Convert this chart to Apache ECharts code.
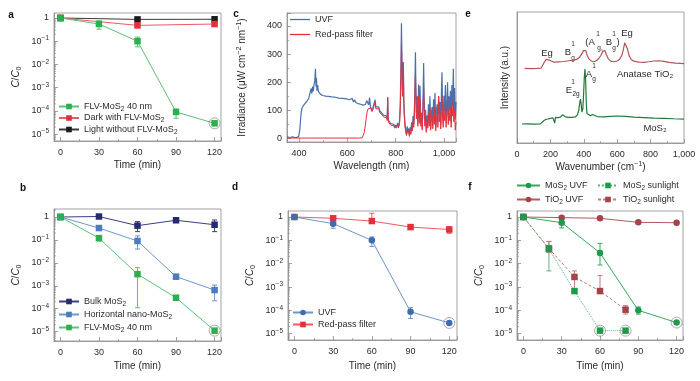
<!DOCTYPE html>
<html><head><meta charset="utf-8">
<script src="https://cdn.jsdelivr.net/npm/echarts@6/dist/echarts.min.js"></script>
<style>html,body{margin:0;padding:0;background:#fff}#c{width:700px;height:381px}</style>
</head><body><div id="c"></div>
<script>
// ================= DATA =================
// panel a
const timeA = [0, 30, 60, 90, 120];
const timeA3 = [0, 60, 120];
const aFlv   = [1, 0.55, 0.1, 8.9e-5, 2.9e-5];
const aFlvLo = [null, 0.33, 0.057, 4.8e-5, null];
const aFlvHi = [null, 0.76, 0.15, 1.2e-4, null];
const aDark   = [1, 0.48, 0.55];
const aDarkLo = [null, null, 0.47];
const aDarkHi = [null, null, 0.66];
const aLight  = [1, 0.87, 0.88];
// panel b
const timeB = [0, 30, 60, 90, 120];
const bBulk   = [1, 1.05, 0.42, 0.72, 0.46];
const bBulkLo = [null, null, 0.23, 0.6, 0.23];
const bBulkHi = [null, null, 0.63, 0.85, 0.74];
const bHor    = [1, 0.33, 0.09, 0.0025, 6.5e-4];
const bHorLo  = [null, 0.26, 0.04, 0.0019, 2.2e-4];
const bHorHi  = [null, 0.42, 0.15, 0.003, 1.07e-3];
const bFlv    = [1, 0.12, 3.2e-3, 3.0e-4, 1.1e-5];
const bFlvLo  = [null, 0.09, 1.1e-4, 2.4e-4, null];
const bFlvHi  = [null, 0.15, 6.2e-3, 3.8e-4, null];
// panel d
const timeD = [0, 30, 60, 90, 120];
const dUvf   = [1, 0.52, 0.1, 8.7e-5, 2.9e-5];
const dUvfLo = [null, 0.33, 0.055, 4.5e-5, null];
const dUvfHi = [null, 0.75, 0.14, 1.3e-4, null];
const dRed   = [1, 0.88, 0.67, 0.37, 0.29];
const dRedLo = [null, null, 0.6, 0.3, 0.2];
const dRedHi = [null, null, 1.45, 0.45, 0.38];
// panel f
const timeF = [0, 30, 60, 90, 120];
const timeFSun = [0, 20, 40, 60, 80];
const fMoUvf   = [1, 0.57, 0.029, 1.0e-4, 3.0e-5];
const fMoUvfLo = [null, 0.34, 0.0088, 6.9e-5, null];
const fMoUvfHi = [null, 0.8, 0.074, 1.4e-4, null];
const fTiUvf   = [1, 0.94, 0.88, 0.59, 0.57];
const fMoSun   = [1, 0.043, 6.7e-4, 1.35e-5, 1.35e-5];
const fMoSunLo = [null, 0.0049, null, null, null];
const fMoSunHi = [null, 0.09, null, null, null];
const fTiSun   = [1, 0.045, 0.0027, 6.7e-4, 1.07e-4];
const fTiSunLo = [null, 0.03, 6.7e-4, 6.7e-4, 7e-5];
const fTiSunHi = [null, 0.09, 0.0049, 3.1e-3, 1.6e-4];
// panel c: irradiance spectra [wavelength nm, µW cm-2 nm-1]
const cUvf = [[350,6],[354,3],[358,7],[362,4],[366,8],[370,3],[374,6],[378,4],[382,7],[386,3],[390,6],[394,4],[398,7],[400,9],[403,30],[406,65],[409,95],[412,108],[416,115],[420,120],[425,126],[430,130],[435,136],[440,143],[444,150],[447,168],[450,178],[453,160],[456,185],[459,168],[462,192],[465,205],[468,248],[470,185],[472,215],[474,170],[477,190],[480,168],[484,172],[488,158],[493,162],[498,153],[504,157],[510,151],[516,154],[522,150],[528,153],[535,148],[542,151],[550,147],[558,149],[565,144],[572,147],[580,143],[588,146],[595,141],[602,144],[610,138],[615,135],[620,143],[625,130],[630,138],[635,128],[640,133],[645,124],[650,130],[655,122],[660,128],[665,119],[670,126],[675,121],[680,135],[684,142],[688,120],[692,146],[696,110],[700,114],[704,102],[708,116],[712,122],[715,138],[718,113],[722,119],[726,106],[730,113],[734,99],[738,104],[742,91],[746,96],[750,83],[754,89],[758,76],[762,81],[765,70],[767,148],[769,73],[772,62],[776,66],[780,53],[784,59],[788,46],[792,51],[796,41],[800,49],[804,37],[808,56],[812,43],[816,61],[819,120],[822,260],[824,410],[826,300],[828,175],[830,240],[832,272],[834,140],[836,90],[839,50],[842,30],[845,14],[848,44],[851,24],[854,36],[857,10],[860,40],[863,20],[866,58],[869,34],[872,80],[875,50],[878,118],[880,200],[882,307],[884,180],[886,92],[889,150],[892,60],[895,192],[898,72],[901,188],[904,58],[907,92],[910,40],[913,122],[916,268],[918,150],[921,60],[924,102],[927,30],[930,82],[933,48],[936,122],[939,58],[942,150],[945,38],[948,92],[951,112],[954,48],[957,140],[960,70],[963,162],[966,40],[969,100],[972,122],[975,58],[978,150],[981,88],[984,130],[987,48],[990,180],[992,236],[994,120],[997,58],[1000,152],[1003,98],[1006,190],[1009,58],[1012,120],[1015,200],[1018,78],[1021,150],[1024,100],[1027,170],[1030,58],[1033,190],[1036,118],[1039,248],[1041,98],[1044,180],[1047,68],[1050,130]];
const cRed = [[350,2],[450,2],[550,2],[650,2],[662,3],[666,8],[670,22],[674,45],[678,72],[682,95],[686,106],[690,112],[694,104],[698,108],[702,96],[706,104],[710,114],[714,130],[718,106],[722,112],[726,99],[730,106],[734,93],[738,97],[742,85],[746,90],[750,77],[754,82],[758,70],[762,74],[765,64],[767,145],[769,66],[772,56],[776,60],[780,48],[784,53],[788,41],[792,46],[796,37],[800,43],[804,33],[808,49],[812,38],[816,53],[819,100],[822,220],[824,337],[826,250],[828,150],[830,200],[832,250],[834,118],[836,74],[839,40],[842,24],[845,11],[848,34],[851,19],[854,28],[857,8],[860,30],[863,15],[866,44],[869,27],[872,60],[875,40],[878,90],[880,160],[882,232],[884,140],[886,70],[889,110],[892,44],[895,150],[898,54],[901,140],[904,44],[907,70],[910,30],[913,90],[916,178],[918,110],[921,44],[924,75],[927,22],[930,60],[933,37],[936,90],[939,44],[942,110],[945,30],[948,66],[951,80],[954,35],[957,100],[960,50],[963,112],[966,28],[969,70],[972,86],[975,40],[978,150],[981,60],[984,90],[987,34],[990,120],[992,150],[994,80],[997,40],[1000,100],[1003,64],[1006,120],[1009,40],[1012,80],[1015,130],[1018,50],[1021,100],[1024,64],[1027,110],[1030,40],[1033,120],[1036,80],[1039,140],[1041,60],[1044,100],[1047,30],[1050,60]];
// panel e: Raman spectra [wavenumber cm-1, intensity a.u.]
const eTiO2 = [[45,57],[80,56.8],[120,57],[145,57.2],[155,58.5],[165,62],[175,63.8],[185,62.5],[195,63.2],[205,62.2],[220,61.8],[250,62],[280,62.2],[310,62.8],[340,63.3],[360,64],[375,65.5],[388,68],[398,70.5],[405,71.8],[412,70.5],[420,67],[432,64],[445,62.6],[460,62],[475,62.8],[490,64.5],[503,67],[513,70],[520,71.2],[527,70.5],[535,67.5],[548,64],[562,62.5],[580,62],[600,62.6],[615,64],[628,67],[638,72],[645,76.5],[650,78],[655,76.5],[662,71.5],[672,66.5],[685,63.5],[700,62.5],[730,61.8],[760,61.5],[790,62],[820,62.6],[850,62.8],[880,62.3],[910,61.5],[950,61],[1000,60.6]];
const eMoS2 = [[30,14.5],[60,14.6],[100,14.4],[140,14.6],[150,15.5],[160,17],[172,18],[185,18.3],[200,18.8],[215,19.3],[222,19.8],[226,15.2],[230,19.5],[245,19.4],[260,19.8],[272,21.5],[280,21.8],[290,20],[310,19.5],[330,19.6],[350,20],[362,21.5],[370,25],[376,31],[380,33.5],[384,30],[389,23.5],[394,26],[398,35],[403,50],[407,56.4],[411,48],[415,30],[419,22.5],[428,21],[440,20.8],[452,21.8],[462,21],[480,20.2],[520,20],[560,20.3],[600,20.6],[650,20.3],[700,19.8],[760,19.4],[820,19],[880,18.8],[940,18.5],[1000,18.3]];

// ================= STYLE HELPERS =================
const FONT = '"Liberation Sans", Arial, sans-serif';
const TXT = '#2b2b2b';
const AX = '#8c8c8c';
function RICH(fs){
  const s = Math.round(fs*0.72*10)/10;
  return {
    n:{fontSize:fs, fontFamily:FONT, color:TXT, lineHeight:fs+3},
    i:{fontSize:fs, fontFamily:FONT, color:TXT, fontStyle:'italic', lineHeight:fs+3},
    b:{fontSize:s, fontFamily:FONT, color:TXT, verticalAlign:'bottom', lineHeight:s},
    p:{fontSize:s, fontFamily:FONT, color:TXT, verticalAlign:'top', lineHeight:s}
  };
}
function rt(str){
  let out='', buf='';
  const flush=()=>{ if(buf){ out+='{n|'+buf+'}'; buf=''; } };
  for(let i=0;i<str.length;i++){
    const c=str[i];
    if(c==='_'||c==='^'){
      flush(); let t;
      if(str[i+1]==='{'){ const j=str.indexOf('}',i+2); t=str.slice(i+2,j); i=j; } else { t=str[i+1]; i++; }
      out+='{'+(c==='_'?'b':'p')+'|'+t+'}';
    } else if(c==='~'){ flush(); out+='{i|'+str[i+1]+'}'; i++; }
    else buf+=c;
  }
  flush(); return out;
}
function logLabel(v){
  const e=Math.log10(v), r=Math.round(e);
  if(Math.abs(e-r)>1e-6) return '';
  if(r===0) return '{n|1}';
  return '{n|10}{p|−'+Math.abs(r)+'}';
}
const DISP = {
  a1:'FLV-MoS_2 40 nm', a2:'Dark with FLV-MoS_2', a3:'Light without FLV-MoS_2',
  b1:'Bulk MoS_2', b2:'Horizontal nano-MoS_2', b3:'FLV-MoS_2 40 nm ',
  c1:'UVF', c2:'Red-pass filter',
  d1:'UVF ', d2:'Red-pass filter ',
  f1:'MoS_2 UVF', f2:'TiO_2 UVF', f3:'MoS_2 sunlight', f4:'TiO_2 sunlight'
};

const gridsPx = [
  {left:54, top:13, width:167, height:128},   // a
  {left:54, top:209, width:167, height:132},  // b
  {left:287, top:13, width:169, height:129},  // c
  {left:288, top:211, width:169, height:129}, // d
  {left:517, top:12, width:167, height:131},  // e
  {left:517, top:211, width:166, height:129}  // f
];
const grids = gridsPx.map(g=>Object.assign({show:true, borderColor:AX, borderWidth:0.8, backgroundColor:'transparent', containLabel:false, outerBoundsMode:'none'}, g));

const tickStyle = {inside:true, length:4, lineStyle:{color:AX, width:0.8}};
const minorStyle = (n)=>({show:true, splitNumber:n, length:2, lineStyle:{color:AX, width:0.7}});

function timeAxis(gi, nameGap){
  return {type:'value', gridIndex:gi, min:-5, max:125, splitNumber:5,
    axisLine:{onZero:false, lineStyle:{color:AX, width:0.8}}, axisTick:tickStyle, minorTick:minorStyle(2),
    splitLine:{show:false}, minorSplitLine:{show:false},
    axisLabel:{margin:7, color:TXT, fontSize:9, fontFamily:FONT, showMinLabel:false, showMaxLabel:false,
      formatter:v=>(v>=0 && v<=120 && v%30===0)?String(v):''},
    name:'Time (min)', nameLocation:'middle', nameGap:nameGap,
    nameTextStyle:{fontSize:10, fontFamily:FONT, color:TXT}};
}
function logAxis(gi, lo, hi){
  return {type:'log', logBase:10, gridIndex:gi, min:Math.pow(10,lo), max:Math.pow(10,hi),
    axisLine:{onZero:false, lineStyle:{color:AX, width:0.8}}, axisTick:tickStyle, minorTick:{show:false},
    splitLine:{show:false}, minorSplitLine:{show:false},
    axisLabel:{margin:5, formatter:logLabel, rich:RICH(9), showMinLabel:false, showMaxLabel:false},
    name:rt('~C/~C_0'), nameLocation:'middle', nameGap:31, nameRotate:90,
    nameTextStyle:{rich:RICH(10)}};
}

const xAxes = [
  timeAxis(0, 19),
  timeAxis(1, 20),
  {type:'value', gridIndex:2, min:350, max:1050, splitNumber:3,
    axisLine:{onZero:false, lineStyle:{color:AX, width:0.8}}, axisTick:tickStyle, minorTick:minorStyle(2),
    splitLine:{show:false},
    axisLabel:{margin:7, color:TXT, fontSize:9, fontFamily:FONT, showMinLabel:false, showMaxLabel:false,
      formatter:v=>(v>=400 && v<=1000 && v%200===0)?(v===1000?'1,000':String(v)):''},
    name:'Wavelength (nm)', nameLocation:'middle', nameGap:19, nameTextStyle:{fontSize:10, fontFamily:FONT, color:TXT}},
  Object.assign(timeAxis(3, 21), {max:126}),
  {type:'value', gridIndex:4, min:0, max:1000, interval:200,
    axisLine:{onZero:false, lineStyle:{color:AX, width:0.8}}, axisTick:tickStyle, minorTick:minorStyle(2),
    splitLine:{show:false},
    axisLabel:{margin:7, color:TXT, fontSize:9, fontFamily:FONT, formatter:v=>v===1000?'1,000':String(v)},
    name:rt('Wavenumber (cm^{−1})'), nameLocation:'middle', nameGap:18, nameTextStyle:{rich:RICH(10)}},
  timeAxis(5, 21)
];
const logRange = {0:[-5.30,0.215], 1:[-5.41,0.349], 3:[-5.27,0.257], 5:[-5.27,0.257]};
const yAxes = [
  logAxis(0, logRange[0][0], logRange[0][1]),
  logAxis(1, logRange[1][0], logRange[1][1]),
  {type:'value', gridIndex:2, min:-12, max:446, splitNumber:5,
    axisLine:{onZero:false, lineStyle:{color:AX, width:0.8}}, axisTick:tickStyle, minorTick:minorStyle(2),
    splitLine:{show:false},
    axisLabel:{margin:5, color:TXT, fontSize:9, fontFamily:FONT, showMinLabel:false, showMaxLabel:false,
      formatter:v=>(v>=0 && v%100===0)?String(v):''},
    name:rt('Irradiance (μW cm^{−2} nm^{−1})'), nameLocation:'middle', nameGap:38, nameRotate:90, nameTextStyle:{rich:RICH(10)}},
  logAxis(3, logRange[3][0], logRange[3][1]),
  {type:'value', gridIndex:4, min:0, max:100,
    axisLine:{onZero:false, lineStyle:{color:AX, width:0.8}}, axisTick:{show:false}, axisLabel:{show:false},
    splitLine:{show:false},
    name:'Intensity (a.u.)', nameLocation:'middle', nameGap:7, nameRotate:90, nameTextStyle:{fontSize:10, fontFamily:FONT, color:TXT}},
  logAxis(5, logRange[5][0], logRange[5][1])
];

// ================= SERIES BUILDERS =================
function line(gi, name, xs, ys, color, lineColor, symbol, dash, z){
  return {type:'line', name, xAxisIndex:gi, yAxisIndex:gi, data:xs.map((x,i)=>[x, ys[i]]),
    symbol, symbolSize:6.5, showSymbol:true, itemStyle:{color}, lineStyle:{color:lineColor, width:1, type:dash||'solid'},
    z:z||3, silent:true};
}
function err(gi, xs, lo, hi, color){
  const data=[];
  xs.forEach((x,i)=>{ if(lo[i]!=null && hi[i]!=null) data.push([x, lo[i], hi[i]]); });
  return {type:'custom', xAxisIndex:gi, yAxisIndex:gi, data, encode:{x:0, y:[1,2]}, z:2, silent:true,
    renderItem(params, api){
      const x=api.value(0); const p1=api.coord([x, api.value(1)]); const p2=api.coord([x, api.value(2)]);
      const w=2.5; const st={stroke:color, lineWidth:1};
      return {type:'group', children:[
        {type:'line', shape:{x1:p1[0], y1:p1[1], x2:p2[0], y2:p2[1]}, style:st},
        {type:'line', shape:{x1:p1[0]-w, y1:p1[1], x2:p1[0]+w, y2:p1[1]}, style:st},
        {type:'line', shape:{x1:p2[0]-w, y1:p2[1], x2:p2[0]+w, y2:p2[1]}, style:st}]};
    }};
}
// log-axis minor ticks (2..9 x 10^n) drawn inward from the left axis
function logMinor(gi){
  const [lo, hi] = logRange[gi]; const vals=[];
  for(let d=Math.floor(lo); d<=Math.ceil(hi); d++) for(let k=2;k<=9;k++){
    const v=k*Math.pow(10,d); const e=Math.log10(v); if(e>lo && e<hi) vals.push([0, v]);
  }
  return {type:'custom', xAxisIndex:gi, yAxisIndex:gi, data:vals, encode:{x:0, y:1}, z:1, silent:true, clip:false,
    renderItem(params, api){
      const p=api.coord([0, api.value(1)]); const x0=params.coordSys.x;
      return {type:'line', shape:{x1:x0, y1:p[1], x2:x0+2, y2:p[1]}, style:{stroke:AX, lineWidth:0.7}};
    }};
}
function ring(gi, pts){
  return {type:'scatter', xAxisIndex:gi, yAxisIndex:gi, data:pts, symbol:'circle', symbolSize:11,
    itemStyle:{color:'rgba(0,0,0,0)', borderColor:'#7a7a7a', borderWidth:0.8}, z:5, silent:true};
}
function spec(gi, name, pts, color, width, z){
  return {type:'line', name, xAxisIndex:gi, yAxisIndex:gi, data:pts, symbol:'none', showSymbol:false,
    lineStyle:{color, width}, itemStyle:{color}, z:z, silent:true};
}

const G_A='#2bb04f', G_AL='#5cc276', R_='#e4303c', R_L='#ec5a64';
const series = [
  logMinor(0), logMinor(1), logMinor(3), logMinor(5),
  // a
  err(0, timeA, aFlvLo, aFlvHi, G_AL),
  err(0, timeA3, aDarkLo, aDarkHi, R_L),
  line(0, 'a3', timeA3, aLight, '#1a1a1a', '#3a3a3a', 'rect'),
  line(0, 'a2', timeA3, aDark, R_, R_L, 'rect'),
  line(0, 'a1', timeA, aFlv, G_A, G_AL, 'rect'),
  ring(0, [[timeA[4], aFlv[4]]]),
  // b
  err(1, timeB, bBulkLo, bBulkHi, '#3a3f80'),
  err(1, timeB, bHorLo, bHorHi, '#6d97cf'),
  err(1, timeB, bFlvLo, bFlvHi, G_AL),
  line(1, 'b1', timeB, bBulk, '#262b70', '#3a3f80', 'rect'),
  line(1, 'b2', timeB, bHor, '#4a7cc0', '#6d97cf', 'rect'),
  line(1, 'b3', timeB, bFlv, G_A, G_AL, 'rect'),
  ring(1, [[timeB[4], bFlv[4]]]),
  // c
  spec(2, 'c1', cUvf, '#4a70ab', 1.2, 3),
  spec(2, 'c2', cRed, '#e8303c', 1, 4),
  // d
  err(3, timeD, dUvfLo, dUvfHi, '#6f95cb'),
  err(3, timeD, dRedLo, dRedHi, R_L),
  line(3, 'd2', timeD, dRed, R_, R_L, 'rect'),
  line(3, 'd1', timeD, dUvf, '#3c6cb4', '#6f95cb', 'circle'),
  ring(3, [[timeD[4], dUvf[4]]]),
  // e
  spec(4, 'eT', eTiO2, '#b4525b', 1.2, 3),
  spec(4, 'eM', eMoS2, '#1f7a3d', 1.2, 3),
  // f
  err(5, timeF, fMoUvfLo, fMoUvfHi, '#36a85d'),
  err(5, timeFSun, fMoSunLo, fMoSunHi, '#57b878'),
  err(5, timeFSun, fTiSunLo, fTiSunHi, '#c07d82'),
  line(5, 'f4', timeFSun, fTiSun, '#a5434b', '#c07d82', 'rect', [3,2]),
  line(5, 'f3', timeFSun, fMoSun, '#1f9a4c', '#57b878', 'rect', 'dotted'),
  line(5, 'f2', timeF, fTiUvf, '#a5434b', '#b35a61', 'circle'),
  line(5, 'f1', timeF, fMoUvf, '#1f9a4c', '#36a85d', 'circle'),
  ring(5, [[timeFSun[3], fMoSun[3]], [timeFSun[4], fMoSun[4]], [timeF[4], fMoUvf[4]]])
];

function legend(names, left, top, gap, w, h){
  return {data:names, left, top, orient:'vertical', itemWidth:w||20, itemHeight:h||7, itemGap:gap, padding:0,
    selectedMode:false, formatter:n=>rt(DISP[n]), textStyle:{rich:RICH(9)}};
}
const legends = [
  legend(['a1','a2','a3'], 58, 102, 1),
  legend(['b1','b2','b3'], 58, 297, 2.5),
  Object.assign(legend([{name:'c1', icon:'rect'},{name:'c2', icon:'rect'}], 290, 15, 6, 20, 1.3)),
  legend(['d1','d2'], 292, 308, 3),
  legend(['f1','f2'], 516, 181, 3.5, 23),
  legend(['f3','f4'], 597, 181, 3.5, 20)
];

// ================= ANNOTATIONS =================
function txt(t, x, y, fs){
  return {type:'text', x, y, silent:true, style:{text:t, fontSize:fs, fontFamily:FONT, fill:TXT,
    align:'center', verticalAlign:'middle', textAlign:'center', textVerticalAlign:'middle'}};
}
function bold(t, x, y){ const e=txt(t,x,y,10); e.style.fontWeight='bold'; e.style.fill='#111'; return e; }
const graphics = [
  bold('a',11,15), bold('b',23,188), bold('c',236,14), bold('d',235,187), bold('e',468,14), bold('f',470,187),
  txt('Eg',547,53,9.5),
  txt('B',568,52,9.5), txt('1',573,44,6.5), txt('g',573,58,6.5),
  txt('(A',590,42,9.5), txt('1',598,34,6.5), txt('g,',600,48,6.5),
  txt('B',609,42,9.5), txt('1',614,34,6.5), txt('g',614,48,6.5), txt(')',618,42,9.5),
  txt('Eg',627,33,9.5),
  txt('Anatase TiO₂',645,74,9.5),
  txt('A',589,74,9.5), txt('1',594,66,6.5), txt('g',594,79,6.5),
  txt('E',569,90,9.5), txt('1',573,82,6.5), txt('2g',576,94,6.5),
  txt('MoS₂',655,128,9.5)
];

const chart = echarts.init(document.getElementById('c'), null, {renderer:'canvas'});
chart.setOption({
  animation:false, backgroundColor:'#fff',
  textStyle:{fontFamily:FONT},
  grid:grids, xAxis:xAxes, yAxis:yAxes, series, legend:legends, graphic:graphics
});
</script>
</body></html>
